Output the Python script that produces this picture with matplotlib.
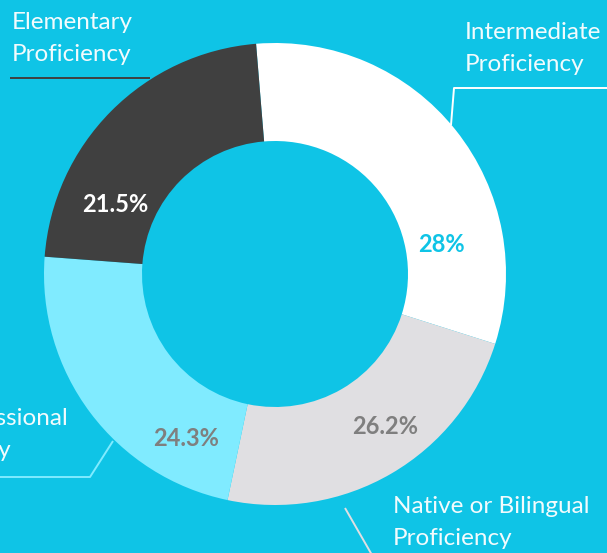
"""Language proficiency donut chart."""

import matplotlib

matplotlib.use("Agg")
import matplotlib.pyplot as plt

levels = ["Intermediate\nProficiency", "Native or Bilingual\nProficiency", "Full Professional\nProficiency", "Elementary\nProficiency"]
shares = [31.2, 23.4, 22.9, 22.5]
pct_labels = ["28%", "26.2%", "24.3%", "21.5%"]

BG = "#0FC4E6"
colors = ["#FFFFFF", "#E0DFE2", "#80EBFF", "#404040"]
pct_colors = [BG, "#7F7F7F", "#7F7F7F", "#FFFFFF"]

# label / leader positions in pixel coordinates (y down)
pct_pos = [(441, 245), (385, 427), (186, 438), (115, 204)]
name_pos = [(465, 22), (393, 496), (-108, 408), (12, 12)]
leaders = [
    ([607, 454, 451], [88, 88, 125]),
    ([345, 372], [508, 555]),
    ([-5, 90, 113], [477, 477, 441]),
    ([10, 150], [78, 78]),
]
leader_colors = ["#FFFFFF", "#E0DFE2", "#80EBFF", "#404040"]

fig = plt.figure(figsize=(6.07, 5.53), dpi=100, facecolor=BG)
ax = fig.add_axes([0, 0, 1, 1])
ax.set_facecolor(BG)

ax.pie(
    shares,
    colors=colors,
    center=(275, 274),
    radius=231,
    startangle=-94.7,
    counterclock=True,
    wedgeprops=dict(width=98, edgecolor="none"),
    frame=True,
)
ax.set_xlim(0, 607)
ax.set_ylim(553, 0)
ax.set_aspect("equal")
ax.axis("off")

for (x, y), txt, c in zip(pct_pos, pct_labels, pct_colors):
    ax.text(x, y, txt, ha="center", va="center", color=c, fontsize=17,
            fontweight="bold", family=["Lato", "DejaVu Sans"])

for (x, y), txt in zip(name_pos, levels):
    ax.text(x, y, txt, ha="left", va="top", color="#F2FBFD", fontsize=17.5,
            fontweight="normal", family=["Lato", "DejaVu Sans"], linespacing=1.65,
            clip_on=False)

for (xs, ys), c in zip(leaders, leader_colors):
    ax.plot(xs, ys, color=c, lw=1.4, solid_capstyle="butt", clip_on=False)

fig.savefig("out.png", dpi=100, facecolor=BG)
